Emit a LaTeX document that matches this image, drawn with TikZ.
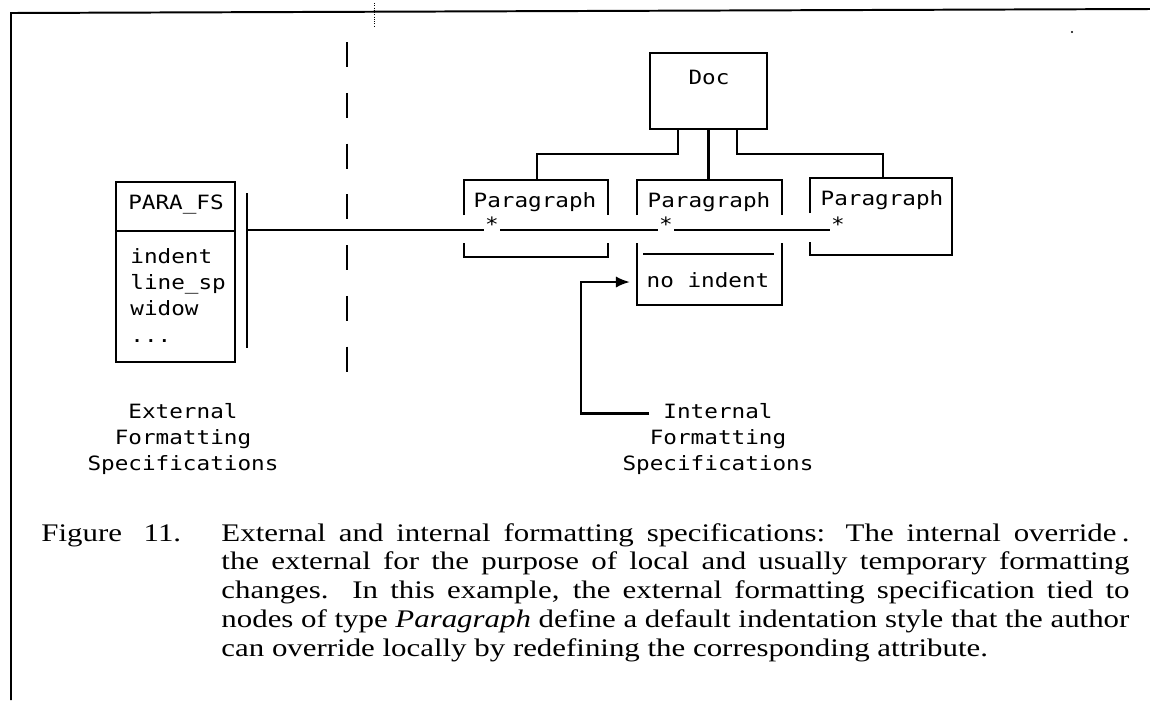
\documentclass[tikz,border=0pt]{standalone}
\usepackage{fontspec}
\setmainfont{Liberation Serif}
\newfontfamily\termfont{DejaVu Sans Mono}
\usetikzlibrary{arrows.meta,calc}

\begin{document}
\begin{tikzpicture}[x=0.025cm,y=-0.025cm,line width=1.7pt,
  tt/.style={font=\termfont\fontsize{14}{16}\selectfont,inner sep=0pt,xscale=1.15},
  captxt/.style={font=\fontsize{18}{20.6}\selectfont,inner sep=0pt,xscale=1.22},
  arr/.style={-{Latex[length=10pt,width=8pt]}}]
  \useasboundingbox (0,0) rectangle (1150,700);
  \draw[line width=1.4pt] (1150,9) -- (11,13) -- (11,700);
  \draw[densely dotted,line width=0.6pt] (374,3) -- (374,27);
  \fill (1072,32) circle (0.8pt);

  % external spec
  \node[draw,minimum width=2.975cm,minimum height=4.5cm,inner sep=0pt] (fs) at (175.5,272) {};
  \draw (fs.west |- 0,231) -- (fs.east |- 0,231);
  \node[tt] (fsname) at (176,205) {PARA\_FS};
  \foreach \t/\yy [count=\i] in {indent/263,line\_sp/289,widow/315}
    \node[tt,anchor=base west] (fs\i) at (129,\yy) {\t};
  \node[tt,anchor=base west] (fs4) at (129,342) {...};
  \coordinate (bartop) at (247,193);
  \coordinate (barbot) at (247,348);
  \coordinate (fsbar) at (247,230);
  \draw (bartop) -- (barbot);

  \draw[line width=2pt,dash pattern=on 17.8pt off 18.3pt] (347,42) -- (347,373);

  % document tree
  \node[draw,minimum width=2.925cm,minimum height=1.9cm,inner sep=0pt] (doc) at (708.5,91) {};
  \node[tt] (doclbl) at (709,77) {Doc};
  \node[tt] (p1) at (535,202) {Paragraph};
  \node[tt] (p2) at (709,202) {Paragraph};
  \node[tt] (p3) at (882,200) {Paragraph};
  \coordinate (p1top) at (537,180);
  \coordinate (p2top) at (708.5,180);
  \coordinate (p3top) at (883,178);
  \draw ($(doc.south)+(-30.5,0)$) -- ++(0,24) -| (p1top);
  \draw (doc.south) -- (p2top);
  \draw ($(doc.south)+(28.5,0)$) -- ++(0,24) -| (p3top);

  \draw (464,215) |- (608,180) -- (608,215);
  \draw (464,243) |- (608,257) -- (608,243);
  \draw (637,215) |- (782,180) -- (782,215);
  \draw (637,243) |- (782,305) -- (782,243);
  \draw (643,254) -- (774,254);
  \node[tt] (noind) at (708,280) {no indent};
  \draw (810,213) |- (952,178) -- (952,255) -| (810,242);

  \foreach \xx [count=\i] in {492,666,838}
    \node[tt,anchor=base] (s\i) at (\xx,231) {*};
  \draw (fsbar) -- (s1.west |- fsbar);
  \draw (s1.east |- fsbar) -- (s2.west |- fsbar);
  \draw (s2.east |- fsbar) -- (s3.west |- fsbar);

  % labels
  \foreach \t/\yy [count=\i] in {External/418,Formatting/444,Specifications/470}
    \node[tt,anchor=base] (ext\i) at (183,\yy) {\t};
  \foreach \t/\yy [count=\i] in {Internal/418,Formatting/444,Specifications/470}
    \node[tt,anchor=base] (int\i) at (718,\yy) {\t};
  \coordinate (p2in) at (630,282);
  \draw[arr] ($(int1.west)+(-13,3)$) -| ($(p2in)+(-49,0)$) -- (p2in);

  % caption
  \node[captxt,anchor=base west] (fig) at (40,541) {Figure\hspace{0.7em}11.};
  \node[captxt,anchor=base west] (capt) at (220,541) {\parbox[t]{18.6cm}{\fontsize{18}{20.6}\selectfont
    External and internal formatting specifications:  The internal override\,.\linebreak
    the external for the purpose of local and usually temporary formatting\linebreak
    changes.  In this example, the external formatting specification tied to\linebreak
    nodes of type \textit{Paragraph} define a default indentation style that the author\linebreak
    can override locally by redefining the corresponding attribute.}};
\end{tikzpicture}
\end{document}
